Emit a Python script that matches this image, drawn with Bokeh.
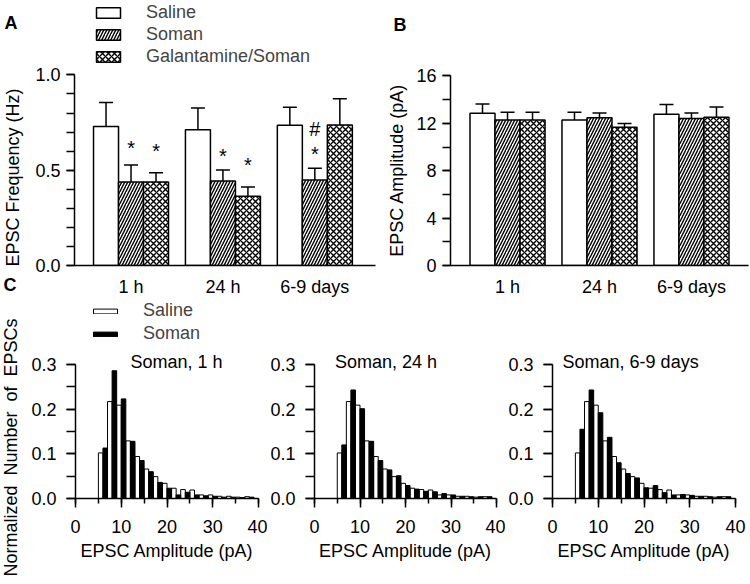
import math
from bokeh.plotting import figure
from bokeh.layouts import row, column
from bokeh.models import (ColumnDataSource, Whisker, TeeHead, Legend, LegendItem,
                          FixedTicker, Range1d, PrintfTickFormatter)
from bokeh.embed import file_html
from bokeh.resources import INLINE
from bokeh.core.properties import value

FONT = "Liberation Sans"

# ---------------- data ----------------
time_points = ["1 h", "24 h", "6-9 days"]
group_x = [1, 2, 3]
treatments = ["Saline", "Soman", "Galantamine/Soman"]

freq_saline = [0.730, 0.713, 0.736]
freq_soman = [0.438, 0.443, 0.449]
freq_galsoman = [0.438, 0.363, 0.737]
freq_saline_sem = [0.126, 0.113, 0.095]
freq_soman_sem = [0.089, 0.058, 0.061]
freq_galsoman_sem = [0.049, 0.049, 0.138]

amp_saline = [12.86, 12.27, 12.77]
amp_soman = [12.27, 12.47, 12.40]
amp_galsoman = [12.27, 11.66, 12.52]
amp_saline_sem = [0.77, 0.67, 0.81]
amp_soman_sem = [0.67, 0.41, 0.48]
amp_galsoman_sem = [0.67, 0.33, 0.86]

# significance marks in panel A
mark_symbol = ["*", "*", "*", "*", "*", "#"]
mark_group = [0, 0, 1, 1, 2, 2]
mark_treat = [1, 2, 1, 2, 1, 1]
mark_y = [0.615, 0.600, 0.574, 0.527, 0.584, 0.714]

# amplitude histograms (bin width 1 pA; saline in odd bins, soman in even bins)
bin_left_saline = [5, 7, 9, 11, 13, 15, 17, 19, 21, 23, 25, 27, 29, 31, 33, 35, 37]
bin_left_soman = [6, 8, 10, 12, 14, 16, 18, 20, 22, 24, 26, 28, 30, 32, 34, 36, 38]
hist_saline = [0.102, 0.217, 0.209, 0.129, 0.094, 0.066, 0.049, 0.034, 0.023,
               0.020, 0.019, 0.008, 0.008, 0.005, 0.005, 0.003, 0.004]
hist_soman_1h = [0.113, 0.286, 0.223, 0.128, 0.085, 0.060, 0.036, 0.023, 0.008,
                 0.014, 0.008, 0.006, 0.005, 0.003, 0.003, 0.002, 0.003]
hist_soman_24h = [0.120, 0.243, 0.201, 0.128, 0.085, 0.064, 0.051, 0.029, 0.021,
                  0.016, 0.015, 0.011, 0.008, 0.005, 0.004, 0.004, 0.004]
hist_soman_69d = [0.155, 0.243, 0.192, 0.137, 0.080, 0.056, 0.046, 0.024, 0.029,
                  0.013, 0.008, 0.009, 0.007, 0.005, 0.004, 0.004, 0.004]
hist_titles = ["Soman, 1 h", "Soman, 24 h", "Soman, 6-9 days"]

BAR_OFFSETS = [-0.272, 0.0, 0.272]
BAR_W = 0.272
HATCHES = [None, "/", "x"]


def style(p):
    p.xgrid.visible = False
    p.ygrid.visible = False
    p.outline_line_color = None
    p.background_fill_color = "white"
    p.border_fill_color = "white"
    for ax in p.axis:
        ax.axis_line_width = 1.5
        ax.axis_line_color = "black"
        ax.major_tick_line_width = 1.5
        ax.minor_tick_line_width = 1.5
        ax.major_tick_line_color = "black"
        ax.minor_tick_line_color = "black"
        ax.major_tick_in = 0
        ax.minor_tick_in = 0
        ax.major_label_text_font = FONT
        ax.major_label_text_font_size = "18px"
        ax.major_label_text_color = "black"
        ax.axis_label_text_font = FONT
        ax.axis_label_text_font_size = "18px"
        ax.axis_label_text_font_style = "normal"
        ax.axis_label_text_color = "black"


def blank_fig(width, height, bottom=0):
    # blank canvas whose data coordinates are pixels measured up from the figure bottom
    p = figure(width=width, height=height, x_range=Range1d(0, width),
               y_range=Range1d(bottom, height),
               x_axis_type=None, y_axis_type=None, output_backend="svg",
               toolbar_location=None, min_border=0, min_border_bottom=bottom)
    p.outline_line_color = None
    p.background_fill_color = "white"
    p.border_fill_color = "white"
    return p


def bar_panel(width, height, xr, yr, bl, br, bb, means, sems, y_major, y_minor, fmt):
    p = figure(width=width, height=height, x_range=Range1d(*xr), y_range=Range1d(*yr),
               output_backend="svg", toolbar_location=None,
               min_border_left=bl, min_border_right=br, min_border_top=0, min_border_bottom=bb)
    renderers = []
    for k in range(3):
        xs = [g + BAR_OFFSETS[k] for g in group_x]
        src = ColumnDataSource(dict(x=xs, top=means[k],
                                    upper=[m + s for m, s in zip(means[k], sems[k])]))
        kw = {}
        if HATCHES[k]:
            kw = dict(hatch_pattern=HATCHES[k], hatch_color="black", hatch_scale=6, hatch_weight=1.4)
        r = p.vbar(x="x", top="top", bottom=0, width=BAR_W, source=src,
                   fill_color="white", line_color="black", line_width=1.5, **kw)
        renderers.append(r)
        p.add_layout(Whisker(source=src, base="x", lower="top", upper="upper",
                             dimension="height", line_width=1.5, line_color="black",
                             upper_head=TeeHead(size=14, line_width=1.5, line_color="black"),
                             lower_head=None))
    p.xaxis.ticker = FixedTicker(ticks=group_x)
    p.xaxis.major_label_overrides = {g: t for g, t in zip(group_x, time_points)}
    p.xaxis.major_tick_out = 0
    p.xaxis.minor_tick_out = 0
    p.xaxis.major_label_standoff = 11
    p.yaxis.ticker = FixedTicker(ticks=y_major, minor_ticks=y_minor)
    p.yaxis.formatter = PrintfTickFormatter(format=fmt)
    p.yaxis.bounds = (y_major[0], y_major[-1])
    p.yaxis.major_tick_out = 8
    p.yaxis.minor_tick_out = 8
    p.yaxis.major_label_standoff = 6
    style(p)
    return p, renderers


def letters(p, xs, ys, texts):
    p.text(x=xs, y=ys, text=texts, text_font=value(FONT), text_font_size="18px",
           text_font_style="bold", text_color="black", text_align="left",
           text_baseline="alphabetic")


def vlabel(p, xs, ys, texts):
    p.text(x=xs, y=ys, text=texts, angle=math.pi / 2, text_font=value(FONT),
           text_font_size="18px", text_color="black", text_align="center",
           text_baseline="middle")


# ---------------- left strip: panel letters and long rotated labels ----------------
left = blank_fig(24, 584)
letters(left, [4, 3], [562, 300], ["A", "C"])
vlabel(left, [12, 10], [407, 137],
       ["EPSC Frequency (Hz)", "Normalized \u00a0Number \u00a0of \u00a0EPSCs"])

# ---------------- panel A ----------------
pA, rA = bar_panel(356, 299, (0.385, 3.66), (0, 1.3906), 50, 5, 32,
                   [freq_saline, freq_soman, freq_galsoman],
                   [freq_saline_sem, freq_soman_sem, freq_galsoman_sem],
                   [0, 0.5, 1.0], [round(0.1 * i, 1) for i in range(11)], "%.1f")
mx = [group_x[g] + BAR_OFFSETS[t] for g, t in zip(mark_group, mark_treat)]
pA.text(x=mx, y=mark_y, text=mark_symbol, text_font=value(FONT), text_font_size="20px",
        text_align="center", text_baseline="middle", text_color="black")
legA = Legend(items=[LegendItem(label=t, renderers=[r]) for t, r in zip(treatments, rA)],
              location=(19, 198), glyph_width=30, glyph_height=13, label_standoff=23,
              spacing=1, padding=0, margin=0, border_line_color=None,
              background_fill_alpha=0, label_text_font=FONT, label_text_font_size="18px",
              label_height=21)
pA.add_layout(legA)

# ---------------- panel B ----------------
midB = blank_fig(30, 299, bottom=32)
letters(midB, [13], [274], ["B"])
vlabel(midB, [16], [128], ["EPSC Amplitude (pA)"])
pB, rB = bar_panel(340, 299, (0.38, 3.62), (0, 22.366), 40, 2, 32,
                   [amp_saline, amp_soman, amp_galsoman],
                   [amp_saline_sem, amp_soman_sem, amp_galsoman_sem],
                   [0, 4, 8, 12, 16], [0, 2, 4, 6, 8, 10, 12, 14, 16], "%d")


# ---------------- panel C ----------------
def hist_panel(width, bl, br, soman_vals, title, title_x):
    p = figure(width=width, height=285, x_range=Range1d(0, 40), y_range=Range1d(0, 0.4455),
               output_backend="svg", toolbar_location=None,
               min_border_left=bl, min_border_right=br, min_border_top=0, min_border_bottom=86)
    rs = p.quad(left=bin_left_saline, right=[b + 1 for b in bin_left_saline], bottom=0,
                top=hist_saline, fill_color="white", line_color="black", line_width=1)
    rk = p.quad(left=bin_left_soman, right=[b + 1 for b in bin_left_soman], bottom=0,
                top=soman_vals, fill_color="black", line_color="black", line_width=1)
    p.text(x=[title_x], y=[0.3045], text=[title], text_font=value(FONT),
           text_font_size="18px", text_align="left", text_baseline="middle", text_color="black")
    p.xaxis.ticker = FixedTicker(ticks=[0, 10, 20, 30, 40], minor_ticks=list(range(0, 41, 5)))
    p.xaxis.major_tick_out = 9
    p.xaxis.minor_tick_out = 5
    p.xaxis.major_label_standoff = 12
    p.xaxis.axis_label = "EPSC Amplitude (pA)"
    p.xaxis.axis_label_standoff = 5
    p.yaxis.ticker = FixedTicker(ticks=[0, 0.1, 0.2, 0.3],
                                 minor_ticks=[0, 0.05, 0.1, 0.15, 0.2, 0.25, 0.3])
    p.yaxis.formatter = PrintfTickFormatter(format="%.1f")
    p.yaxis.bounds = (0, 0.3)
    p.yaxis.major_tick_out = 9
    p.yaxis.minor_tick_out = 9
    p.yaxis.major_label_standoff = 10
    style(p)
    return p, rs, rk


h1, rs1, rk1 = hist_panel(243, 51, 9, hist_soman_1h, hist_titles[0], 12.0)
h2, _, _ = hist_panel(238, 44, 9, hist_soman_24h, hist_titles[1], 4.5)
h3, _, _ = hist_panel(245, 45, 15, hist_soman_69d, hist_titles[2], 2.2)

legC = Legend(items=[LegendItem(label="Saline", renderers=[rs1]),
                     LegendItem(label="Soman", renderers=[rk1])],
              location=(15, 154), glyph_width=30, glyph_height=6, label_standoff=23,
              spacing=2, padding=0, margin=0, border_line_color=None,
              background_fill_alpha=0, label_text_font=FONT, label_text_font_size="18px",
              label_height=21)
h1.add_layout(legC)

layout = row(left, column(row(pA, midB, pB), row(h1, h2, h3)))
open("out.html", "w").write(file_html(layout, INLINE))
